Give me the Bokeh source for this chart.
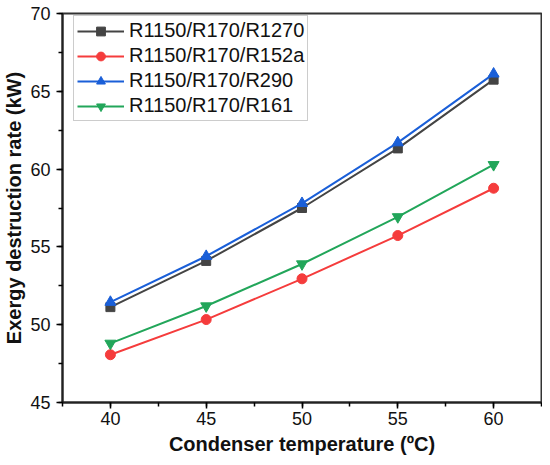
from bokeh.plotting import figure
from bokeh.embed import file_html
from bokeh.resources import INLINE
from bokeh.models import SingleIntervalTicker, Legend, LegendItem

temps = [40, 45, 50, 55, 60]
r1270 = [51.13, 54.1, 57.5, 61.33, 65.75]
r152a = [48.07, 50.33, 52.95, 55.73, 58.77]
r290 = [51.45, 54.4, 57.8, 61.7, 66.12]
r161 = [48.8, 51.2, 53.9, 56.93, 60.28]

names = ["R1150/R170/R1270", "R1150/R170/R152a", "R1150/R170/R290", "R1150/R170/R161"]
series = [r1270, r152a, r290, r161]
colors = ["#444444", "#f53c3c", "#1a5fd8", "#22a65a"]
markers = ["square", "circle", "triangle", "inverted_triangle"]
msizes = [9, 10, 11, 11]

p = figure(width=542, height=457, x_range=(37.5, 62.5), y_range=(45, 70),
           output_backend="svg", toolbar_location=None,
           min_border_left=61, min_border_right=1, min_border_top=13, min_border_bottom=55)
p.grid.visible = False
p.outline_line_color = "#333333"
p.outline_line_width = 2
p.background_fill_color = "white"

p.xaxis.ticker = SingleIntervalTicker(interval=5, num_minor_ticks=2)
p.yaxis.ticker = SingleIntervalTicker(interval=5, num_minor_ticks=2)
for ax in (p.xaxis, p.yaxis):
    ax.axis_line_width = 2
    ax.axis_line_color = "#222222"
    ax.major_tick_line_width = 1.5
    ax.minor_tick_line_width = 1.5
    ax.major_tick_in = 0
    ax.major_tick_out = 6
    ax.minor_tick_in = 0
    ax.minor_tick_out = 4
    ax.major_label_text_font = "Liberation Sans"
    ax.major_label_text_font_size = "18px"
    ax.major_label_text_color = "#111111"
    ax.axis_label_text_font = "Liberation Sans"
    ax.axis_label_text_font_style = "bold"
    ax.axis_label_text_font_size = "20px"
    ax.axis_label_text_color = "#111111"
p.xaxis.axis_label = "Condenser temperature (ºC)"
p.yaxis.axis_label = "Exergy destruction rate (kW)"
p.xaxis.major_label_standoff = 3
p.xaxis.axis_label_standoff = 5
p.yaxis.major_label_standoff = 6
p.yaxis.axis_label_standoff = 2

items = []
for name, ys, c, m, sz in zip(names, series, colors, markers, msizes):
    l = p.line(temps, ys, line_color=c, line_width=2)
    s = p.scatter(temps, ys, marker=m, size=sz, fill_color=c, line_color=c)
    items.append(LegendItem(label=name, renderers=[l, s]))

legend = Legend(items=items, location=(11, 281))
legend.label_text_font = "Liberation Sans"
legend.label_text_font_size = "20px"
legend.label_text_color = "#111111"
legend.border_line_color = "#999999"
legend.border_line_width = 1
legend.glyph_width = 47
legend.glyph_height = 22
legend.spacing = 2
legend.padding = 3
legend.margin = 0
legend.label_standoff = 5
legend.label_height = 22
p.add_layout(legend)

open("out.html", "w").write(file_html(p, INLINE))
